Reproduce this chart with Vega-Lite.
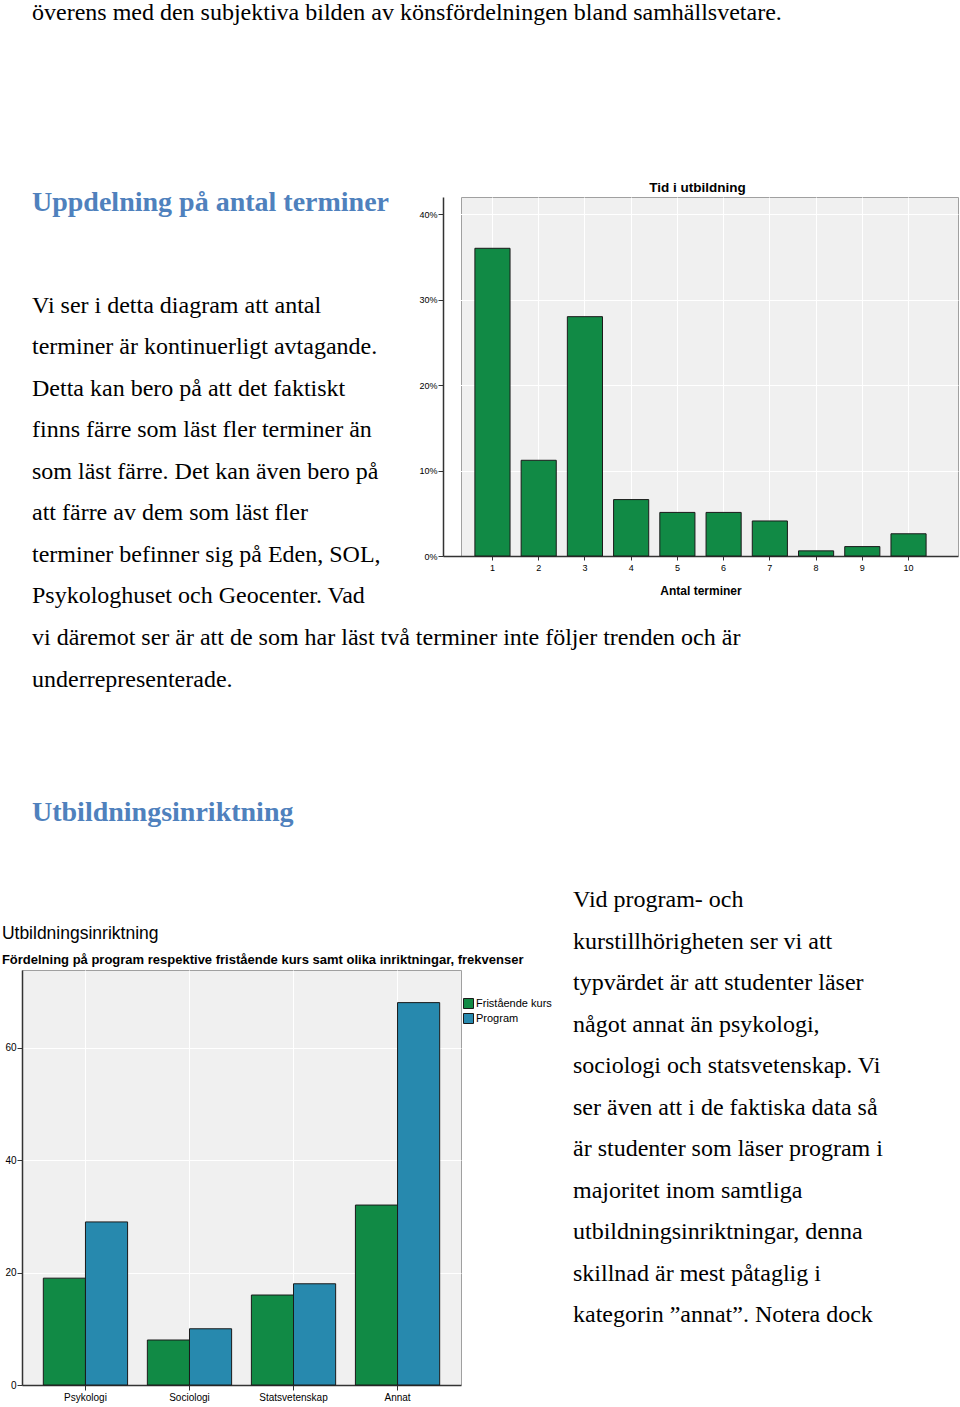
{
  "$schema": "https://vega.github.io/schema/vega-lite/v6.json",
  "padding": 0,
  "background": "white",
  "columns": 3,
  "spacing": 0,
  "bounds": "flush",
  "align": "each",
  "resolve": {"scale": {"fill": "independent"}, "legend": {"fill": "independent"}},
  "datasets": {
    "text": [
      {"block": "intro", "line": 1, "text": "överens med den subjektiva bilden av könsfördelningen bland samhällsvetare."},
      {"block": "h1", "line": 1, "text": "Uppdelning på antal terminer"},
      {"block": "p1", "line": 1, "text": "Vi ser i detta diagram att antal"},
      {"block": "p1", "line": 2, "text": "terminer är kontinuerligt avtagande."},
      {"block": "p1", "line": 3, "text": "Detta kan bero på att det faktiskt"},
      {"block": "p1", "line": 4, "text": "finns färre som läst fler terminer än"},
      {"block": "p1", "line": 5, "text": "som läst färre. Det kan även bero på"},
      {"block": "p1", "line": 6, "text": "att färre av dem som läst fler"},
      {"block": "p1", "line": 7, "text": "terminer befinner sig på Eden, SOL,"},
      {"block": "p1", "line": 8, "text": "Psykologhuset och Geocenter. Vad"},
      {"block": "p1", "line": 9, "text": "vi däremot ser är att de som har läst två terminer inte följer trenden och är"},
      {"block": "p1", "line": 10, "text": "underrepresenterade."},
      {"block": "h2", "line": 1, "text": "Utbildningsinriktning"},
      {"block": "p2", "line": 1, "text": "Vid program- och"},
      {"block": "p2", "line": 2, "text": "kurstillhörigheten ser vi att"},
      {"block": "p2", "line": 3, "text": "typvärdet är att studenter läser"},
      {"block": "p2", "line": 4, "text": "något annat än psykologi,"},
      {"block": "p2", "line": 5, "text": "sociologi och statsvetenskap. Vi"},
      {"block": "p2", "line": 6, "text": "ser även att i de faktiska data så"},
      {"block": "p2", "line": 7, "text": "är studenter som läser program i"},
      {"block": "p2", "line": 8, "text": "majoritet inom samtliga"},
      {"block": "p2", "line": 9, "text": "utbildningsinriktningar, denna"},
      {"block": "p2", "line": 10, "text": "skillnad är mest påtaglig i"},
      {"block": "p2", "line": 11, "text": "kategorin ”annat”. Notera dock"}
    ],
    "terms": [
      {"terminer": 1, "andel": 36.0},
      {"terminer": 2, "andel": 11.2},
      {"terminer": 3, "andel": 28.0},
      {"terminer": 4, "andel": 6.6},
      {"terminer": 5, "andel": 5.1},
      {"terminer": 6, "andel": 5.1},
      {"terminer": 7, "andel": 4.1},
      {"terminer": 8, "andel": 0.6},
      {"terminer": 9, "andel": 1.1},
      {"terminer": 10, "andel": 2.6}
    ],
    "inr": [
      {"inriktning": "Psykologi", "typ": "Fristående kurs", "antal": 19},
      {"inriktning": "Psykologi", "typ": "Program", "antal": 29},
      {"inriktning": "Sociologi", "typ": "Fristående kurs", "antal": 8},
      {"inriktning": "Sociologi", "typ": "Program", "antal": 10},
      {"inriktning": "Statsvetenskap", "typ": "Fristående kurs", "antal": 16},
      {"inriktning": "Statsvetenskap", "typ": "Program", "antal": 18},
      {"inriktning": "Annat", "typ": "Fristående kurs", "antal": 32},
      {"inriktning": "Annat", "typ": "Program", "antal": 68}
    ]
  },
  "concat": [
    {"width": 22, "height": 1, "data": {"values": []}, "mark": "text", "encoding": {}},
    {
      "width": 439, "height": 197,
      "data": {"name": "text"},
      "transform": [{"filter": "datum.block === 'intro'"}],
      "mark": {"type": "text", "align": "left", "baseline": "alphabetic", "font": "Liberation Serif", "fontSize": 24, "color": "#000000"},
      "encoding": {
        "x": {"datum": 0, "type": "quantitative", "scale": {"domain": [-10, 429], "zero": false, "nice": false}, "axis": null},
        "y": {"field": "line", "type": "quantitative", "scale": {"domain": [0.518, 5.265], "reverse": true, "zero": false, "nice": false}, "axis": null},
        "text": {"field": "text"}
      }
    },
    {"width": 1, "height": 1, "data": {"values": []}, "mark": "text", "encoding": {}},

    {"width": 22, "height": 1, "data": {"values": []}, "mark": "text", "encoding": {}},
    {
      "width": 411, "height": 359,
      "data": {"name": "text"},
      "layer": [
        {
          "transform": [{"filter": "datum.block === 'h1'"}],
          "mark": {"type": "text", "align": "left", "baseline": "alphabetic", "font": "Liberation Serif", "fontSize": 28, "fontWeight": "bold", "color": "#4F81BD"},
          "encoding": {
            "x": {"datum": 0, "type": "quantitative", "scale": {"domain": [-10, 401], "zero": false, "nice": false}, "axis": null},
            "y": {"field": "line", "type": "quantitative", "scale": {"domain": [0.663, 9.314], "reverse": true, "zero": false, "nice": false}, "axis": null},
            "text": {"field": "text"}
          }
        },
        {
          "transform": [{"filter": "datum.block === 'p1' && datum.line <= 8"}],
          "mark": {"type": "text", "align": "left", "baseline": "alphabetic", "font": "Liberation Serif", "fontSize": 24, "color": "#000000"},
          "encoding": {
            "x": {"datum": 0, "type": "quantitative", "scale": {"domain": [-10, 401], "zero": false, "nice": false}, "axis": null},
            "y": {"field": "line", "type": "quantitative", "scale": {"domain": [-1.795, 6.856], "reverse": true, "zero": false, "nice": false}, "axis": null},
            "text": {"field": "text"}
          }
        }
      ],
      "resolve": {"scale": {"y": "independent"}}
    },
    {
      "width": 497, "height": 359,
      "data": {"name": "terms"},
      "view": {"fill": "#F0F0F0", "stroke": "#A0A0A0"},
      "title": {"text": "Tid i utbildning", "frame": "bounds", "anchor": "middle", "font": "Liberation Sans", "fontSize": 13.5, "fontWeight": "bold", "color": "#000000", "offset": 3},
      "mark": {"type": "bar", "fill": "#118A45", "stroke": "#1A1A1A", "strokeWidth": 1},
      "encoding": {
        "x": {
          "field": "terminer", "type": "ordinal",
          "scale": {"range": [-18, 497], "paddingInner": 0.24, "paddingOuter": 0.69},
          "axis": {"title": "Antal terminer", "titleFont": "Liberation Sans", "titleFontWeight": "bold", "titleFontSize": 12, "titlePadding": 13, "labelAngle": 0, "labelFontSize": 9, "labelPadding": 3, "tickSize": 4, "grid": true}
        },
        "y": {
          "field": "andel", "type": "quantitative",
          "scale": {"domain": [0, 42], "nice": false, "zero": true},
          "axis": {"title": null, "offset": 18, "values": [0, 10, 20, 30, 40], "labelExpr": "datum.value + '%'", "labelFontSize": 9, "tickSize": 5, "grid": true}
        }
      }
    },

    {"width": 22, "height": 1, "data": {"values": []}, "mark": "text", "encoding": {}},
    {
      "width": 439, "height": 414,
      "data": {"name": "text"},
      "layer": [
        {
          "transform": [{"filter": "datum.block === 'p1' && datum.line > 8"}],
          "mark": {"type": "text", "align": "left", "baseline": "alphabetic", "font": "Liberation Serif", "fontSize": 24, "color": "#000000"},
          "encoding": {
            "x": {"datum": 0, "type": "quantitative", "scale": {"domain": [-10, 429], "zero": false, "nice": false}, "axis": null},
            "y": {"field": "line", "type": "quantitative", "scale": {"domain": [6.855, 16.831], "reverse": true, "zero": false, "nice": false}, "axis": null},
            "text": {"field": "text"}
          }
        },
        {
          "transform": [{"filter": "datum.block === 'h2'"}],
          "mark": {"type": "text", "align": "left", "baseline": "alphabetic", "font": "Liberation Serif", "fontSize": 28, "fontWeight": "bold", "color": "#4F81BD"},
          "encoding": {
            "x": {"datum": 0, "type": "quantitative", "scale": {"domain": [-10, 429], "zero": false, "nice": false}, "axis": null},
            "y": {"field": "line", "type": "quantitative", "scale": {"domain": [-5.386, 4.59], "reverse": true, "zero": false, "nice": false}, "axis": null},
            "text": {"field": "text"}
          }
        }
      ],
      "resolve": {"scale": {"y": "independent"}}
    },
    {"width": 1, "height": 1, "data": {"values": []}, "mark": "text", "encoding": {}},

    {"width": 22, "height": 1, "data": {"values": []}, "mark": "text", "encoding": {}},
    {
      "width": 439, "height": 415,
      "data": {"name": "inr"},
      "view": {"fill": "#F0F0F0", "stroke": "#A0A0A0"},
      "title": {
        "text": "Utbildningsinriktning",
        "subtitle": "Fördelning på program respektive fristående kurs samt olika inriktningar, frekvenser",
        "anchor": "start", "frame": "bounds", "dx": -3, "font": "Liberation Sans", "fontSize": 17.5, "fontWeight": "normal", "color": "#000000",
        "subtitleFont": "Liberation Sans", "subtitleFontSize": 13, "subtitleFontWeight": "bold", "subtitleColor": "#000000",
        "subtitlePadding": 12, "offset": 3
      },
      "mark": {"type": "bar", "stroke": "#1A1A1A", "strokeWidth": 1},
      "encoding": {
        "x": {
          "field": "inriktning", "type": "nominal",
          "sort": ["Psykologi", "Sociologi", "Statsvetenskap", "Annat"],
          "scale": {"paddingInner": 0.19, "paddingOuter": 0.205},
          "axis": {"title": null, "labelAngle": 0, "labelFontSize": 10, "labelPadding": 2, "tickSize": 5, "grid": true}
        },
        "xOffset": {"field": "typ", "type": "nominal", "sort": ["Fristående kurs", "Program"], "scale": {"paddingInner": 0, "paddingOuter": 0}},
        "y": {
          "field": "antal", "type": "quantitative",
          "scale": {"domain": [0, 73.8], "nice": false},
          "axis": {"title": null, "values": [0, 20, 40, 60], "labelFontSize": 10, "tickSize": 5, "grid": true}
        },
        "fill": {
          "field": "typ", "type": "nominal",
          "scale": {"domain": ["Fristående kurs", "Program"], "range": ["#118A45", "#2789AE"]},
          "legend": {"title": null, "orient": "none", "legendX": 441, "legendY": 28, "symbolType": "square", "symbolSize": 100, "symbolStrokeColor": "#1A1A1A", "symbolStrokeWidth": 1, "labelFont": "Liberation Sans", "labelFontSize": 11, "labelColor": "#000000", "rowPadding": 0, "labelOffset": 2}
        }
      }
    },
    {
      "width": 387, "height": 415,
      "data": {"name": "text"},
      "transform": [{"filter": "datum.block === 'p2'"}],
      "mark": {"type": "text", "align": "left", "baseline": "alphabetic", "font": "Liberation Serif", "fontSize": 24, "color": "#000000"},
      "encoding": {
        "x": {"datum": 0, "type": "quantitative", "scale": {"domain": [-112, 275], "zero": false, "nice": false}, "axis": null},
        "y": {"field": "line", "type": "quantitative", "scale": {"domain": [2.518, 12.518], "reverse": true, "zero": false, "nice": false}, "axis": null},
        "text": {"field": "text"}
      }
    }
  ],
  "config": {
    "view": {"stroke": null},
    "font": "Liberation Sans",
    "axis": {"labelFont": "Liberation Sans", "labelColor": "#000000", "tickColor": "#333333", "domainColor": "#333333", "gridColor": "#FFFFFF", "gridOpacity": 1, "labelPadding": 1, "domainWidth": 1.5}
  }
}
